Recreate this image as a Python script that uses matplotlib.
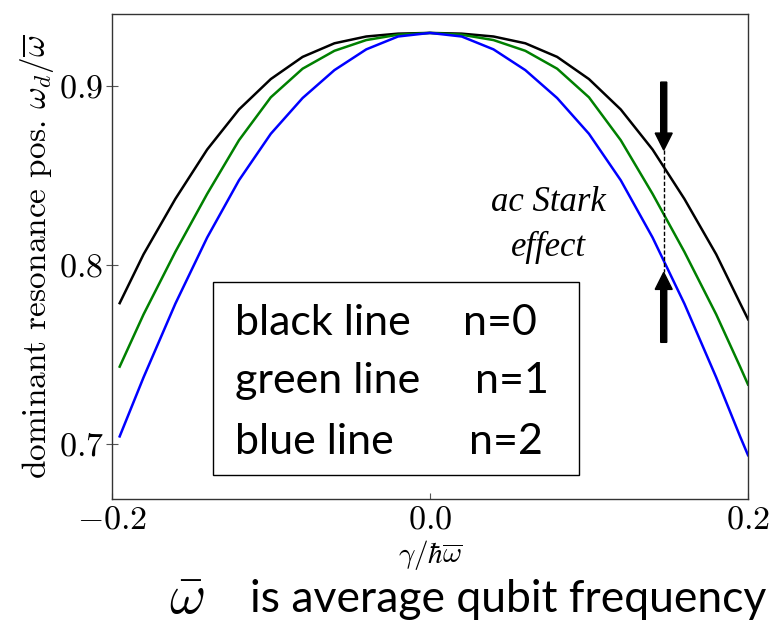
import numpy as np
import matplotlib
matplotlib.use("Agg")
import matplotlib.pyplot as plt

plt.rcParams['font.family'] = 'serif'
plt.rcParams['font.serif'] = ['cmr10']
plt.rcParams['mathtext.fontset'] = 'cm'
plt.rcParams['axes.formatter.use_mathtext'] = True

# values
gamma = [-0.195, -0.18, -0.16, -0.14, -0.12, -0.10, -0.08, -0.06, -0.04, -0.02,
         0.0, 0.02, 0.04, 0.06, 0.08, 0.10, 0.12, 0.14, 0.16, 0.18, 0.195, 0.20]
black_n0 = [0.7785, 0.8058, 0.8368, 0.8644, 0.8868, 0.9038, 0.9162, 0.9238, 0.9276, 0.9292,
            0.9296, 0.9292, 0.9276, 0.9238, 0.9162, 0.9038, 0.8868, 0.8644, 0.8368, 0.8058, 0.7785, 0.7695]
green_n1 = [0.743, 0.7722, 0.8072, 0.8396, 0.8696, 0.8936, 0.9096, 0.9196, 0.9256, 0.9286,
            0.9296, 0.9286, 0.9256, 0.9196, 0.9096, 0.8936, 0.8696, 0.8396, 0.8072, 0.7722, 0.743, 0.733]
blue_n2 = [0.704, 0.737, 0.7782, 0.8152, 0.8472, 0.8732, 0.8932, 0.9088, 0.9204, 0.9276,
           0.9296, 0.9276, 0.9204, 0.9088, 0.8932, 0.8732, 0.8472, 0.8152, 0.7782, 0.737, 0.704, 0.6935]

stark_x = 0.147
stark_top = 0.8641
stark_bottom = 0.7957

fig = plt.figure(figsize=(7.71, 6.28), dpi=100)
ax = fig.add_axes([0.1449, 0.2054, 0.8253, 0.7718])

ax.plot(gamma, black_n0, color='black', lw=1.8)
ax.plot(gamma, green_n1, color='#008000', lw=1.8)
ax.plot(gamma, blue_n2, color='#0000ff', lw=1.8)

ax.set_xlim(-0.2, 0.2)
ax.set_ylim(0.669, 0.940)
ax.set_xticks([-0.2, 0.0, 0.2])
ax.set_yticks([0.7, 0.8, 0.9])
ax.tick_params(axis='x', direction='in', length=4.5, labelsize=24.5, pad=5, color='#555555')
ax.tick_params(axis='y', direction='inout', length=8, labelsize=24.5, pad=2, color='#555555')
for s in ax.spines.values():
    s.set_color('#333333')
    s.set_linewidth(1.0)

ax.set_ylabel(r'dominant resonance pos. $\omega_d/\overline{\omega}$', fontsize=24, labelpad=2)
ax.set_xlabel(r'$\gamma/\hbar\overline{\omega}$', fontsize=21, labelpad=2)

# ac Stark arrows
ax.plot([stark_x, stark_x], [stark_top, stark_bottom], color='black', lw=1.0,
        ls=(0, (3, 1.5)))
ax.arrow(stark_x, 0.9021, 0, stark_top - 0.9021, width=0.0038, head_width=0.0107,
         head_length=0.0095, length_includes_head=True, color='black')
ax.arrow(stark_x, 0.7566, 0, stark_bottom - 0.7566, width=0.0038, head_width=0.0107,
         head_length=0.0095, length_includes_head=True, color='black')
ax.text(0.0748, 0.8347, 'ac Stark', family='Liberation Serif', style='italic',
        fontsize=25, ha='center', va='center')
ax.text(0.0748, 0.8096, 'effect', family='Liberation Serif', style='italic',
        fontsize=25, ha='center', va='center')

# box with line labels
ax.add_patch(plt.Rectangle((0.1597, 0.0495), 0.5747, 0.3988, transform=ax.transAxes,
                           fill=False, ec='black', lw=1.0))
rows = ['black line', 'green line', 'blue line']
ns = ['n=0', 'n=1', 'n=2']
row_y = [0.3389, 0.2186, 0.0928]
n_x = [0.5521, 0.5710, 0.5616]
for r, n, yy, nx in zip(rows, ns, row_y, n_x):
    ax.text(0.1938, yy, r, transform=ax.transAxes, family='Lato', fontsize=31,
            va='baseline', ha='left')
    ax.text(nx, yy, n, transform=ax.transAxes, family='Lato', fontsize=31,
            va='baseline', ha='left')

fig.text(187 / 771, 1 - 600 / 628, r'$\bar{\omega}$', fontsize=40, ha='center', va='center')
fig.text(250 / 771, 1 - 612 / 628, 'is average qubit frequency', family='Lato',
         fontsize=32, ha='left', va='baseline')

fig.savefig('out.png', dpi=100)
